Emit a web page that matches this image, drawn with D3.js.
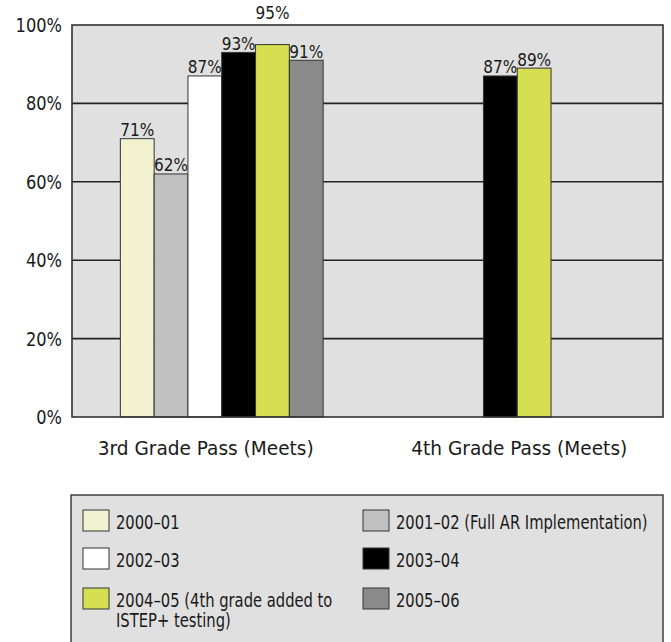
<!DOCTYPE html>
<html>
<head>
<meta charset="utf-8">
<script src="https://cdn.jsdelivr.net/npm/d3@7"></script>
<style>
  body { margin: 0; background: #fff; }
  svg text { font-family: "DejaVu Sans Condensed", "Liberation Sans Narrow", sans-serif; font-stretch: condensed; fill: #1a1a1a; }
</style>
</head>
<body>
<svg id="chart" width="671" height="642"></svg>
<script>
// data
const categories = ["3rd Grade Pass (Meets)", "4th Grade Pass (Meets)"];
const years = ["2000–01", "2001–02", "2002–03", "2003–04", "2004–05", "2005–06"];
const legendLabels = [
  ["2000–01"],
  ["2001–02 (Full AR Implementation)"],
  ["2002–03"],
  ["2003–04"],
  ["2004–05 (4th grade added to", "ISTEP+ testing)"],
  ["2005–06"]
];
const thirdGrade = [71, 62, 87, 93, 95, 91];
const fourthGrade = [null, null, null, 87, 89, null];
const yTicks = [0, 20, 40, 60, 80, 100];
const colors = ["#f2f2d0", "#c0c0c0", "#ffffff", "#000000", "#d6df52", "#8a8a8a"];

const svg = d3.select("#chart");
const plot = { left: 72, right: 663, top: 25, bottom: 417 };
const barW = 33.8;

const y = d3.scaleLinear().domain([0, 100]).range([plot.bottom, plot.top]);
const x = d3.scaleBand().domain(categories).range([plot.left + 2, plot.right + 2]);

// text squeezed horizontally, the source font is narrower than what we have
function narrowText(tx, ty, size, sx, anchor) {
    return svg.append("text")
        .attr("transform", "translate(" + tx + "," + ty + ") scale(" + sx + ",1)")
        .attr("text-anchor", anchor || "start")
        .style("font-size", size + "px");
}

// plot background
svg.append("rect")
    .attr("x", plot.left).attr("y", plot.top)
    .attr("width", plot.right - plot.left).attr("height", plot.bottom - plot.top)
    .attr("fill", "#e0e0e0");

// gridlines
svg.selectAll(".grid")
    .data(yTicks.filter(d => d > 0 && d < 100)).enter()
    .append("line")
    .attr("x1", plot.left).attr("x2", plot.right)
    .attr("y1", d => y(d)).attr("y2", d => y(d))
    .attr("stroke", "#222").attr("stroke-width", 1.6);

// y labels
yTicks.forEach(function(d) {
    narrowText(62, y(d) + 7, 19, 0.95, "end").text(d + "%");
});

// bars
const groups = [thirdGrade, fourthGrade];
groups.forEach(function(vals, gi) {
    const items = vals.map((v, i) => ({ v: v, i: i })).filter(d => d.v !== null);
    const cx = x(categories[gi]) + x.bandwidth() / 2;
    const start = cx - items.length * barW / 2;
    items.forEach(function(d, k) {
        const bx = start + k * barW;
        svg.append("rect")
            .attr("x", bx).attr("y", y(d.v))
            .attr("width", barW).attr("height", plot.bottom - y(d.v))
            .attr("fill", colors[d.i])
            .attr("stroke", "#333").attr("stroke-width", 1);
        // value label, pushed above the frame when the bar nearly touches it
        let ly = y(d.v) - 2.5;
        if (y(d.v) - plot.top < 22) ly = plot.top - 6;
        narrowText(bx + barW / 2, ly, 17, 1, "middle").text(d.v + "%");
    });
});

// frame
svg.append("rect")
    .attr("x", plot.left).attr("y", plot.top)
    .attr("width", plot.right - plot.left).attr("height", plot.bottom - plot.top)
    .attr("fill", "none").attr("stroke", "#333").attr("stroke-width", 1.6);

// category labels
const catNudge = [-16, 2];
categories.forEach(function(c, i) {
    narrowText(x(c) + x.bandwidth() / 2 + catNudge[i], 455, 20, 1.03, "middle").text(c);
});

// legend
svg.append("rect")
    .attr("x", 71).attr("y", 495)
    .attr("width", 592).attr("height", 160)
    .attr("fill", "#e0e0e0").attr("stroke", "#333").attr("stroke-width", 1.4);

const colX = [83, 363];
const rowY = [510, 548, 588];
legendLabels.forEach(function(lines, i) {
    const lx = colX[i % 2];
    const ly = rowY[Math.floor(i / 2)];
    svg.append("rect")
        .attr("x", lx).attr("y", ly)
        .attr("width", 26).attr("height", 21)
        .attr("fill", colors[i])
        .attr("stroke", "#333").attr("stroke-width", 1);
    const t = narrowText(lx + 33, ly + 19, 20, 0.82);
    lines.forEach(function(line, li) {
        t.append("tspan")
            .attr("x", 0)
            .attr("dy", li === 0 ? 0 : 20)
            .text(line);
    });
});
</script>
</body>
</html>
